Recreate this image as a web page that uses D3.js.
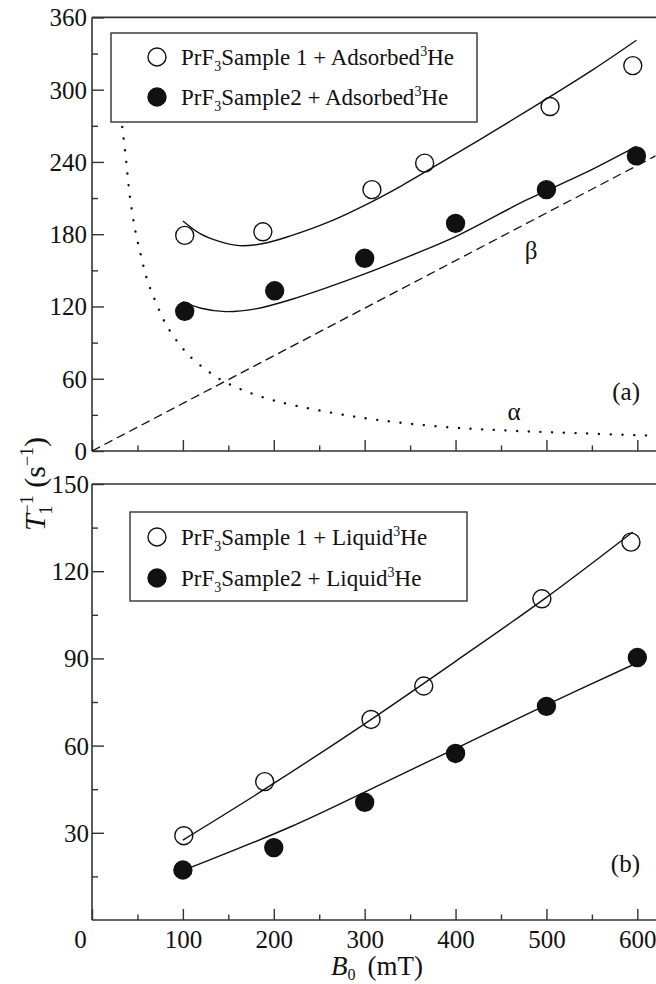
<!DOCTYPE html>
<html>
<head>
<meta charset="utf-8">
<script src="https://cdn.jsdelivr.net/npm/d3@7"></script>
<style>
html,body{margin:0;padding:0;background:#fff;}
svg{display:block;}
text{font-family:"Liberation Serif","Times New Roman","DejaVu Serif",serif;fill:#111;}
</style>
</head>
<body>
<svg id="c" width="656" height="984"></svg>
<script>
// ---------- data ----------
// panel (a): adsorbed 3He
const aSample1 = [[102,179],[188,182],[308,217],[366,239],[504,286],[595,320]];
const aSample2 = [[102,116],[201,133],[300,160],[400,189],[500,217],[599,245]];
const aFit1 = [[100,191],[120,180],[140,174],[162,170.5],[190,172.5],[220,179],[260,190],[300,204],[340,220],[383,239],[430,260],[480,283],[550,316],[599,341]];
const aFit2 = [[100,124],[120,118.5],[147,115.7],[180,118],[220,126],[260,136],[300,147],[350,162],[400,178],[477,208],[540,230],[599,253]];
const alphaCurve = [[33.3,269],[37.7,240],[41.7,211],[48,181.6],[53.8,162.5],[60.7,142.2],[70.3,123.4],[82.4,103.8],[100.7,84.4],[113,75],[138.7,60.6],[164.7,50.9],[190.8,44],[217,38.8],[293.6,28],[383.3,20.2],[460,16.9],[537,14.7],[620,12.6]];
const betaLine = [[0,0],[620,245]];
// panel (b): liquid 3He
const bSample1 = [[101,29],[190,47.6],[307,69],[365,80.5],[495,110.5],[593,130]];
const bSample2 = [[100,17.2],[200,24.9],[300,40.5],[400,57.3],[500,73.5],[600,90.3]];
const bFit1 = [[100,27.5],[190,45],[300,67.5],[400,89],[500,111],[595,133.5]];
const bFit2 = [[100,17],[218,32],[300,44],[400,59],[500,74],[600,88.5]];
// ticks
const xMajor = [0,100,200,300,400,500,600];
const xMinor = [50,150,250,350,450,550];
const yTopMajor = [0,60,120,180,240,300,360];
const yTopMinor = [30,90,150,210,270,330];
const yBotMajor = [30,60,90,120,150];
const yBotMinor = [15,45,75,105,135];
const legendA = ["Sample 1 + Adsorbed","Sample2 + Adsorbed"];
const legendB = ["Sample 1 + Liquid","Sample2 + Liquid"];

// ---------- layout ----------
const svg = d3.select("#c");
const X0 = 92, X1 = 655.5;
const x = d3.scaleLinear().domain([0,620]).range([X0,X1]);
const yA = d3.scaleLinear().domain([0,360]).range([451,17.4]);
const yB = d3.scaleLinear().domain([0,150]).range([920,484]);
const axisCol = "#333";
const tickFont = 25;
const FF = '"Liberation Serif","Times New Roman","DejaVu Serif",serif';

function panel(y, yMaj, yMin, showXLabels, yPad){
  const g = svg.append("g");
  const [yb, yt] = y.range();
  g.append("line").attr("x1",X0).attr("x2",656).attr("y1",yt).attr("y2",yt).attr("stroke",axisCol).attr("stroke-width",1.6);
  g.append("line").attr("x1",X0).attr("x2",X0).attr("y1",yt).attr("y2",yb).attr("stroke",axisCol).attr("stroke-width",1.6);
  g.append("line").attr("x1",X0).attr("x2",656).attr("y1",yb).attr("y2",yb).attr("stroke",axisCol).attr("stroke-width",1.6);
  const xa = g.append("g").attr("transform",`translate(0,${yb})`)
    .call(d3.axisBottom(x).tickValues(xMajor).tickSize(-11).tickFormat(showXLabels ? d3.format("d") : ""));
  xa.attr("font-family", FF);
  xa.select(".domain").remove();
  xa.selectAll("line").attr("stroke",axisCol).attr("stroke-width",1.4);
  xa.selectAll("text").attr("y",28).attr("dy",0).attr("font-size",tickFont).style("font-family",FF).attr("fill","#111")
    .attr("dx", d => d===0 ? -12 : 0);
  const xm = g.append("g").attr("transform",`translate(0,${yb})`)
    .call(d3.axisBottom(x).tickValues(xMinor).tickSize(-5.5).tickFormat(""));
  xm.select(".domain").remove();
  xm.selectAll("line").attr("stroke",axisCol).attr("stroke-width",1.4);
  const ya = g.append("g").attr("transform",`translate(${X0},0)`)
    .call(d3.axisLeft(y).tickValues(yMaj).tickSize(-12).tickPadding(yPad).tickFormat(d3.format("d")));
  ya.attr("font-family", FF);
  ya.select(".domain").remove();
  ya.selectAll("line").attr("stroke",axisCol).attr("stroke-width",1.4);
  ya.selectAll("text").attr("font-size",tickFont).attr("dy","0.34em").style("font-family",FF).attr("fill","#111");
  const ym = g.append("g").attr("transform",`translate(${X0},0)`)
    .call(d3.axisLeft(y).tickValues(yMin).tickSize(-6).tickFormat(""));
  ym.select(".domain").remove();
  ym.selectAll("line").attr("stroke",axisCol).attr("stroke-width",1.4);
  return g;
}

const gA = panel(yA, yTopMajor, yTopMinor, false, 5);
const gB = panel(yB, yBotMajor, yBotMinor, true, 3);

function curve(g, y, pts, opts){
  const line = d3.line().x(d=>x(d[0])).y(d=>y(d[1])).curve(opts.curve || d3.curveCatmullRom);
  const p = g.append("path").attr("d", line(pts)).attr("fill","none")
    .attr("stroke", "#111").attr("stroke-width", opts.w || 1.4);
  if (opts.dash) p.attr("stroke-dasharray", opts.dash);
  if (opts.cap) p.attr("stroke-linecap", opts.cap);
}
function points(g, y, pts, filled){
  g.selectAll(null).data(pts).enter().append("circle")
    .attr("cx", d=>x(d[0])).attr("cy", d=>y(d[1])).attr("r", 9)
    .attr("fill", filled ? "#111" : "#fff").attr("stroke","#111").attr("stroke-width",1.4);
}

// panel a
curve(gA, yA, betaLine, {dash:"9,5", curve:d3.curveLinear, w:1.3});
curve(gA, yA, alphaCurve, {dash:"0.1,11.6", cap:"round", w:2.4});
points(gA, yA, aSample1, false);
points(gA, yA, aSample2, true);
curve(gA, yA, aFit1, {});
curve(gA, yA, aFit2, {});

// panel b
points(gB, yB, bSample1, false);
points(gB, yB, bSample2, true);
curve(gB, yB, bFit1, {});
curve(gB, yB, bFit2, {});

// legends
function legend(box, rows, labels){
  svg.append("rect").attr("x",box[0]).attr("y",box[1]).attr("width",box[2]-box[0]).attr("height",box[3]-box[1])
    .attr("fill","#fff").attr("stroke",axisCol).attr("stroke-width",1.4);
  labels.forEach((lab,i)=>{
    const cy = rows[i];
    svg.append("circle").attr("cx",157).attr("cy",cy).attr("r",9)
      .attr("fill", i===0 ? "#fff" : "#111").attr("stroke","#111").attr("stroke-width",1.4);
    const parts = lab.split(" + ");
    const t = svg.append("text").attr("x",181).attr("y",cy+7.5).attr("font-size",23);
    t.append("tspan").text("PrF");
    t.append("tspan").attr("font-size",14).attr("dy",6).text("3");
    t.append("tspan").attr("dy",-6).text(parts[0] + " + " + parts[1]);
    t.append("tspan").attr("font-size",14).attr("dy",-9).text("3");
    t.append("tspan").attr("dy",9).text("He");
  });
}
legend([111,33,477,122],[57,97],legendA);
legend([130,512,467,601],[537,578],legendB);

// annotations
svg.append("text").attr("x",640).attr("y",400).attr("text-anchor","end").attr("font-size",25).text("(a)");
svg.append("text").attr("x",640).attr("y",872).attr("text-anchor","end").attr("font-size",25).text("(b)");
svg.append("text").attr("x",514).attr("y",420).attr("text-anchor","middle").attr("font-size",25).text("α");
svg.append("text").attr("x",531).attr("y",259).attr("text-anchor","middle").attr("font-size",25).text("β");

// x label
const xl = svg.append("text").attr("x",377).attr("y",975).attr("text-anchor","middle").attr("font-size",27);
xl.append("tspan").attr("font-style","italic").text("B");
xl.append("tspan").attr("font-size",16).attr("dy",5).text("0");
xl.append("tspan").attr("dy",-5).text("\u2009 (mT)");

// y label
const yl = svg.append("text").attr("transform","translate(45,484) rotate(-90)").attr("text-anchor","middle").attr("font-size",30);
yl.append("tspan").attr("font-style","italic").text("T");
yl.append("tspan").attr("font-size",18).attr("dy",7).text("1");
yl.append("tspan").attr("font-size",18).attr("dx",-9).attr("dy",-19).text("\u22121");
yl.append("tspan").attr("dy",12).text(" (s");
yl.append("tspan").attr("font-size",18).attr("dy",-12).text("\u22121");
yl.append("tspan").attr("dy",12).text(")");
</script>
</body>
</html>
